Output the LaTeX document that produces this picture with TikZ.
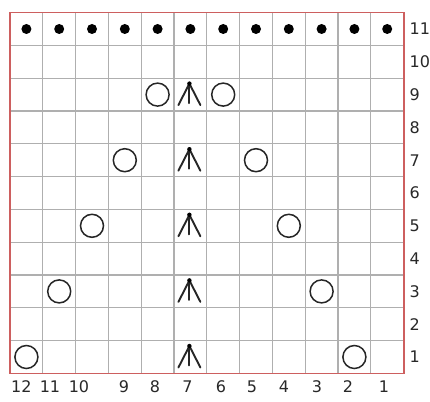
\documentclass[tikz,border=0pt]{standalone}
\usepackage{fontspec}
\setmainfont{DejaVu Sans}
\definecolor{bordercol}{RGB}{205,95,95}
\definecolor{gridcol}{RGB}{175,175,175}
\definecolor{labcol}{RGB}{40,40,40}
\begin{document}
\begin{tikzpicture}[x=1pt,y=-1pt,
  yo/.style={draw=black!85,line width=1.5pt,circle,minimum size=23pt,inner sep=0pt},
  kdot/.style={fill=black,circle,minimum size=10pt,inner sep=0pt},
  lab/.style={text=labcol,font=\fontsize{16}{17}\selectfont,inner sep=0pt},
  dec/.style={draw=black!85,line width=1.9pt,line cap=round}]
\useasboundingbox (0,0) rectangle (430,401);
\fill[white] (0,0) rectangle (430,401);
\def\s{32.8}
\def\xo{10}
\def\yo{12.6}
% grid
\foreach \i in {1,...,11} \draw[gridcol,line width=1.1pt] ({\xo+\i*\s},\yo) -- ({\xo+\i*\s},{\yo+11*\s});
\foreach \j in {1,...,10} \draw[gridcol,line width=1.1pt] (\xo,{\yo+\j*\s}) -- ({\xo+12*\s},{\yo+\j*\s});
\draw[bordercol,line width=1.8pt] (\xo,\yo) rectangle ({\xo+12*\s},{\yo+11*\s});
% row 11 dots
\foreach \c in {1,...,12} \node[kdot] (d\c) at ({\xo+(12-\c+0.5)*\s},{\yo+0.5*\s}) {};
% yarn overs
\foreach \c/\r in {8/9,6/9,9/7,5/7,10/5,4/5,11/3,3/3,12/1,2/1}
  \node[yo] (o\c-\r) at ({\xo+(12-\c+0.5)*\s},{\yo+(11-\r+0.5)*\s}) {};
% central double decreases
\foreach \r in {9,7,5,3,1} {
  \coordinate (a\r) at ({\xo+5.5*\s-1},{\yo+(11-\r+0.5)*\s-11});
  \coordinate (l\r) at ({\xo+5.5*\s-12},{\yo+(11-\r+0.5)*\s+10.5});
  \coordinate (m\r) at ({\xo+5.5*\s-1},{\yo+(11-\r+0.5)*\s+8.5});
  \coordinate (rr\r) at ({\xo+5.5*\s+10},{\yo+(11-\r+0.5)*\s+10.5});
  \draw[dec] (l\r) -- (a\r) -- (rr\r);
  \draw[dec] (a\r) -- (m\r);
  \fill (a\r) circle (2.2pt);
}
% row numbers
\foreach \r in {1,...,11}
  \node[lab,anchor=west] (rn\r) at (409.5,{\yo+(11-\r+0.5)*\s}) {\r};
% column numbers
\foreach \c/\x in {12/21.3,11/50,10/79,9/124,8/155,7/187.5,6/221,5/252,4/284,3/317,2/348,1/384}
  \node[lab] (cn\c) at (\x,387) {\c};
\end{tikzpicture}
\end{document}
